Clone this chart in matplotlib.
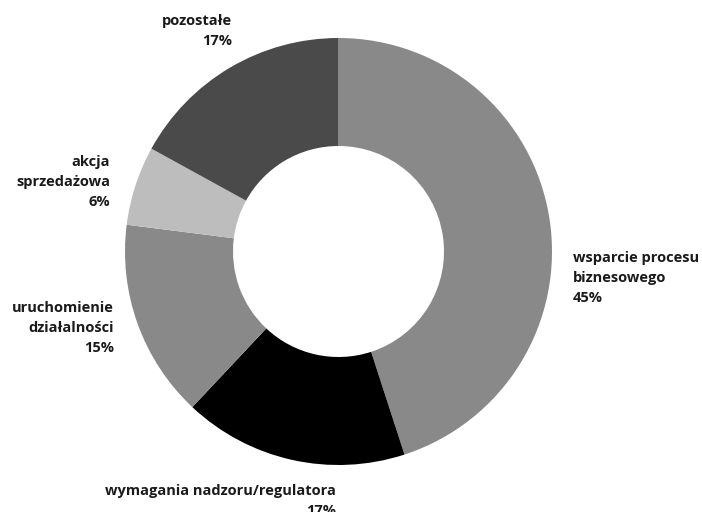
import matplotlib
matplotlib.use("Agg")
import matplotlib.pyplot as plt

# udział przyczyn, w kolejności zgodnej z ruchem wskazówek zegara od godziny 12
kategorie = [
    "wsparcie procesu\nbiznesowego",
    "wymagania nadzoru/regulatora",
    "uruchomienie\ndziałalności",
    "akcja\nsprzedażowa",
    "pozostałe",
]
udzialy = [45, 17, 15, 6, 17]
kolory = ["#898989", "#000000", "#898989", "#bdbdbd", "#4a4a4a"]

W, H = 702, 512
fig = plt.figure(figsize=(W / 100, H / 100), dpi=100)
ax = fig.add_axes([0, 0, 1, 1])

cx, cy, R = 338.5, H - 251.5, 213.5
ax.pie(
    udzialy,
    colors=kolory,
    startangle=90,
    counterclock=False,
    center=(cx, cy),
    radius=R,
    wedgeprops=dict(width=108, linewidth=0),
    frame=True,
)
ax.set_xlim(0, W)
ax.set_ylim(0, H)
ax.axis("off")

# etykiety: (x, linia bazowa pierwszego wiersza, wyrównanie)
pozycje = [
    (573, 260, "left"),
    (336, 494, "right"),
    (114, 310, "right"),
    (110, 164, "right"),
    (232, 24, "right"),
]
krok = 21  # odstęp między wierszami w pikselach
styl = dict(fontsize=10.5, fontweight="bold", color="#1a1a1a",
            family=["Open Sans", "DejaVu Sans"], linespacing=1.55, va="baseline")
for nazwa, u, (x, y, ha) in zip(kategorie, udzialy, pozycje):
    tekst = f"{nazwa}\n{u}%"
    y_ost = y + krok * tekst.count("\n")
    ax.text(x, H - y_ost, tekst, ha=ha, multialignment=ha, **styl)

fig.savefig("out.png", dpi=100)
